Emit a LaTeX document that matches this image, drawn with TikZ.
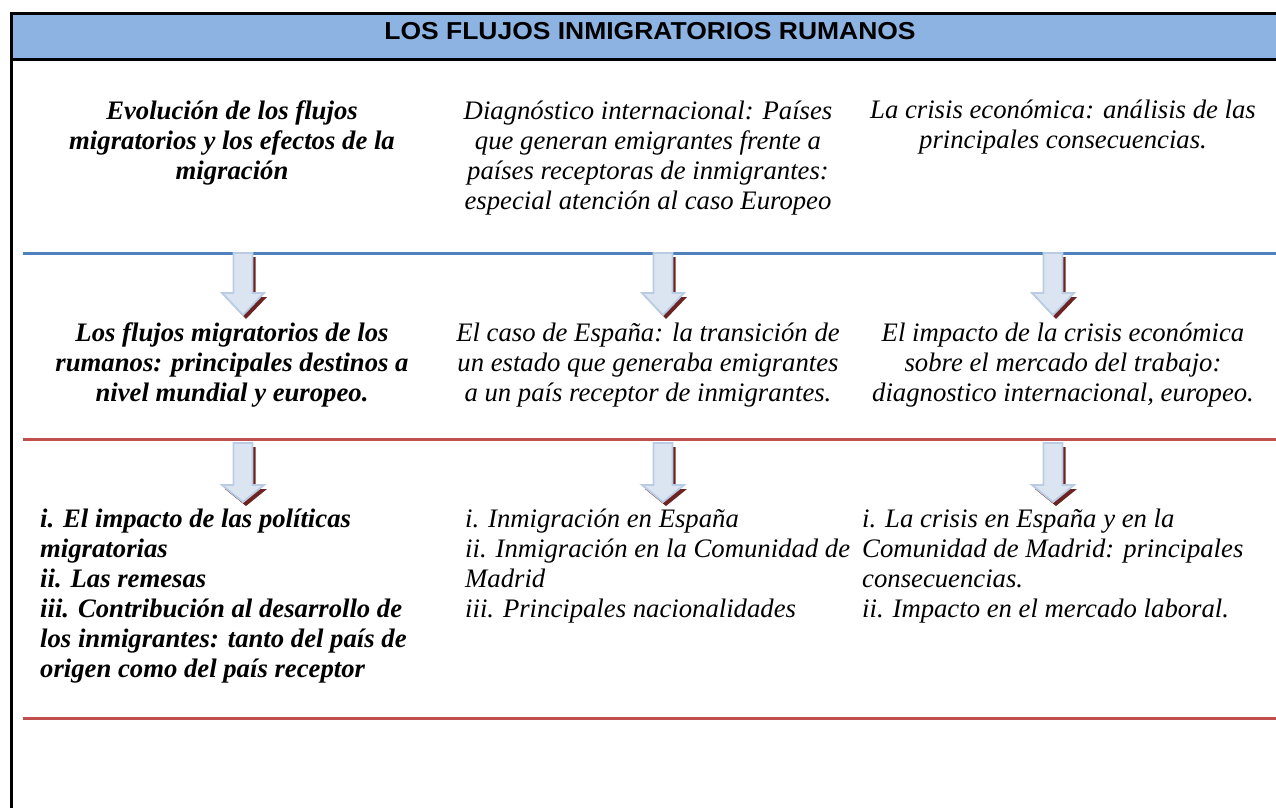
\documentclass[tikz,border=0pt]{standalone}
\usepackage{fontspec}
\setmainfont{Liberation Serif}
\newfontfamily\hdrfont{Liberation Sans}[FakeStretch=1.08]
\definecolor{hdrblue}{RGB}{141,179,226}
\definecolor{lineblue}{RGB}{79,129,189}
\definecolor{linered}{RGB}{192,80,77}
\definecolor{arrfill}{RGB}{219,229,241}
\definecolor{arrline}{RGB}{184,204,228}
\definecolor{shadowred}{RGB}{110,35,35}
\tikzset{
  txt/.style={inner sep=0pt, font=\fontsize{26.7}{30}\selectfont\itshape},
  btxt/.style={txt, font=\fontsize{26.7}{30}\selectfont\bfseries\itshape},
  sepblue/.style={draw=lineblue, line width=3pt},
  sepred/.style={draw=linered, line width=3pt},
  frame/.style={draw=black, line width=3pt},
  downarrow/.pic={
    \fill[shadowred] (-6.5,4) -- (-6.5,44) -- (-18,44) -- (3,66) -- (24,44) -- (12.5,44) -- (12.5,4) -- cycle;
    \filldraw[fill=arrfill, draw=arrline, line width=1.8pt] (-9.5,0) -- (-9.5,40) -- (-21,40) -- (0,62) -- (21,40) -- (9.5,40) -- (9.5,0) -- cycle;
  },
  downarrowb/.pic={
    \fill[shadowred] (-6.5,4) -- (-6.5,46) -- (-18,46) -- (3,63) -- (24,46) -- (12.5,46) -- (12.5,4) -- cycle;
    \filldraw[fill=arrfill, draw=arrline, line width=1.8pt] (-9.5,0) -- (-9.5,42) -- (-21,42) -- (0,59) -- (21,42) -- (9.5,42) -- (9.5,0) -- cycle;
  }
}
\begin{document}
\begin{tikzpicture}[x=1pt,y=-1pt]
\useasboundingbox (0,0) rectangle (1276,808);
% header
\fill[hdrblue] (11,14) rectangle (1276,60);
\draw[frame] (1276,14) -- (11,14) -- (11,808);
\draw[frame] (11,60) -- (1276,60);
\node[inner sep=0pt, font=\hdrfont\fontsize{24.5}{28}\selectfont\bfseries] (title) at (650,31) {LOS FLUJOS INMIGRATORIOS RUMANOS};
% separators
\coordinate (b1l) at (23,253); \coordinate (b1r) at (1276,253);
\coordinate (r1l) at (23,439); \coordinate (r1r) at (1276,439);
\coordinate (r2l) at (23,718); \coordinate (r2r) at (1276,718);
\draw[sepblue] (b1l) -- (b1r);
\draw[sepred] (r1l) -- (r1r);
\draw[sepred] (r2l) -- (r2r);
% arrows
\pic at (243,253) {downarrow};
\pic at (663,253) {downarrow};
\pic at (1053,253) {downarrow};
\pic at (243,443) {downarrowb};
\pic at (663,443) {downarrowb};
\pic at (1053,443) {downarrowb};
% row 1 (anchor = baseline of last line)
\node[btxt, align=center, anchor=base] (a1) at (232,179) {Evolución de los flujos\\migratorios y los efectos de la\\migración};
\node[txt, align=center, anchor=base] (a2) at (648,209) {Diagnóstico internacional: Países\\que generan emigrantes frente a\\países receptoras de inmigrantes:\\especial atención al caso Europeo};
\node[txt, align=center, anchor=base] (a3) at (1063,148) {La crisis económica: análisis de las\\principales consecuencias.};
% row 2
\node[btxt, align=center, anchor=base] (b1) at (232,401) {Los flujos migratorios de los\\rumanos: principales destinos a\\nivel mundial y europeo.};
\node[txt, align=center, anchor=base] (b2) at (648,401) {El caso de España: la transición de\\un estado que generaba emigrantes\\a un país receptor de inmigrantes.};
\node[txt, align=center, anchor=base] (b3) at (1063,401) {El impacto de la crisis económica\\sobre el mercado del trabajo:\\diagnostico internacional, europeo.};
% row 3
\node[btxt, align=left, anchor=base west] (c1) at (40,677) {i. El impacto de las políticas\\migratorias\\ii. Las remesas\\iii. Contribución al desarrollo de\\los inmigrantes: tanto del país de\\origen como del país receptor};
\node[txt, align=left, anchor=base west] (c2) at (465,617) {i. Inmigración en España\\ii. Inmigración en la Comunidad de\\Madrid\\iii. Principales nacionalidades};
\node[txt, align=left, anchor=base west] (c3) at (862,617) {i. La crisis en España y en la\\Comunidad de Madrid: principales\\consecuencias.\\ii. Impacto en el mercado laboral.};
\end{tikzpicture}
\end{document}
